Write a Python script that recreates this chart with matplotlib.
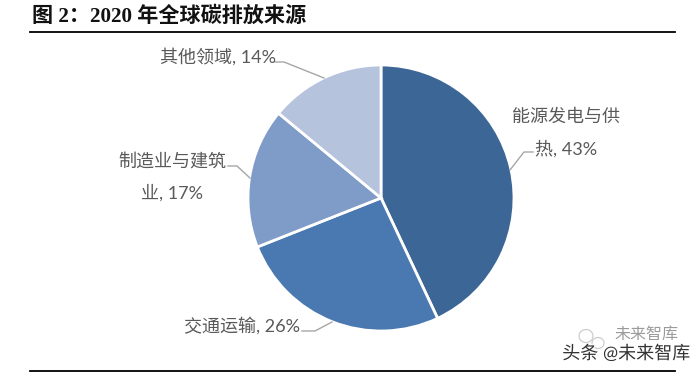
import matplotlib
matplotlib.use('Agg')
import matplotlib.pyplot as plt
import matplotlib.patheffects as pe
from matplotlib.lines import Line2D
from matplotlib.patches import Ellipse

W, H = 700, 373

title = '图 2：2020 年全球碳排放来源'
sectors = ['能源发电与供热', '交通运输', '制造业与建筑业', '其他领域']
shares = [43, 26, 17, 14]
colors = ['#3C6695', '#4A78B0', '#7F9CC8', '#B5C3DD']
watermark = '头条 @未来智库'
watermark_faint = '未来智库'

label_font = ['Lato', 'Noto Sans CJK SC']
title_font = ['Liberation Serif', 'Noto Sans CJK SC']
grey_text = '#595959'
grey_line = '#A6A6A6'


def fx(x):
    return x / W


def fy(y):
    return 1 - y / H


def leader(xs, ys):
    fig.add_artist(Line2D([fx(x) for x in xs], [fy(y) for y in ys], color=grey_line, lw=1))


def label(x, y, s):
    fig.text(fx(x), fy(y), s, family=label_font, fontsize=13, color=grey_text, ha='center', va='center')


fig = plt.figure(figsize=(W / 100, H / 100), dpi=100, facecolor='white')

# pie centre (381, 198), radius 132 in pixels
ax = fig.add_axes([fx(381 - 133), fy(198 + 133), 266 / W, 266 / H])
ax.pie(shares, colors=colors, startangle=90, counterclock=False, radius=1.0,
       wedgeprops={'edgecolor': 'white', 'linewidth': 2})
ax.set_xlim(-1, 1)
ax.set_ylim(-1, 1)

fig.text(fx(32), fy(17), title, family=title_font, fontsize=15.2, fontweight='bold',
         color='#111111', ha='left', va='center')
fig.add_artist(Line2D([fx(30), fx(675)], [fy(32), fy(32)], color='black', lw=1.3))
fig.add_artist(Line2D([fx(30), fx(675)], [fy(371), fy(371)], color='black', lw=1.3))

# labels with their leader lines
label(566, 117, sectors[0][:6])
label(566, 149, sectors[0][6:] + ', %d%%' % shares[0])
leader([533, 524, 510], [152, 152, 170])

label(242, 326, sectors[1] + ', %d%%' % shares[1])
leader([302, 315, 332], [331, 331, 322])

label(172, 161, sectors[2][:6])
label(172, 193, sectors[2][6:] + ', %d%%' % shares[2])
leader([228, 237, 250], [166, 166, 178])

label(218, 57, sectors[3] + ', %d%%' % shares[3])
leader([275, 284, 324], [62, 62, 78])

# faint wechat mark behind the watermark
fig.add_artist(Ellipse((fx(586), fy(336)), 14 / W, 13 / H, fill=False, ec='#C8C8C8', lw=0.8))
fig.add_artist(Ellipse((fx(598), fy(343)), 12 / W, 11 / H, fill=False, ec='#C8C8C8', lw=0.8))
fig.text(fx(646), fy(335), watermark_faint, family=label_font, fontsize=11.5, color='#9A9A9A',
         ha='center', va='center')
fig.text(fx(626), fy(353), watermark, family=label_font, fontsize=13, color='#333333',
         ha='center', va='center',
         path_effects=[pe.withStroke(linewidth=1.5, foreground='white')])

fig.savefig('out.png', dpi=100)
